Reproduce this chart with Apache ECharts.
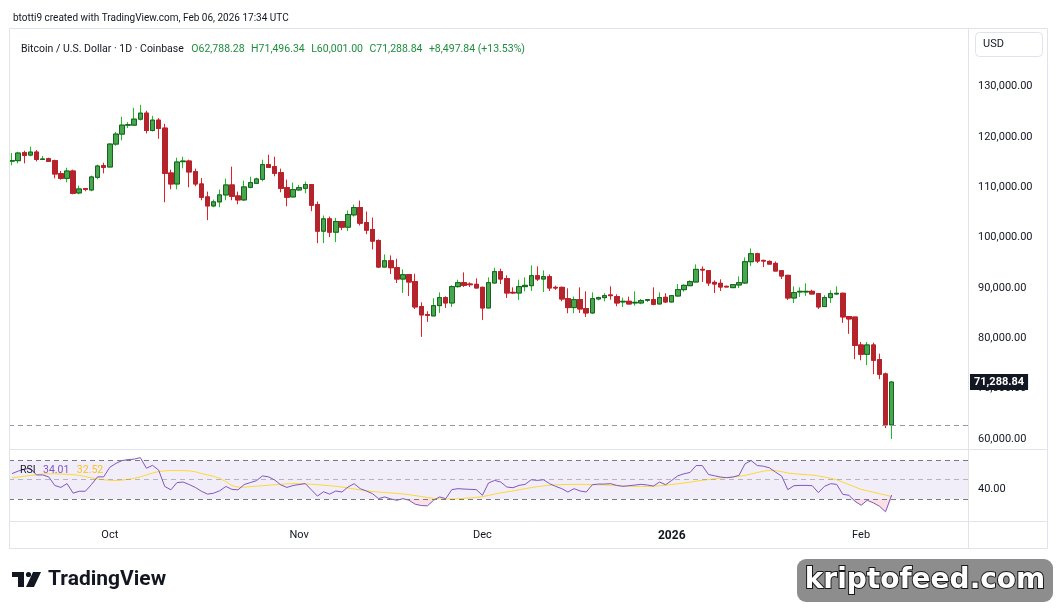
<!DOCTYPE html>
<html>
<head>
<meta charset="utf-8">
<script src="https://cdn.jsdelivr.net/npm/echarts@6/dist/echarts.min.js"></script>
<style>
html, body { margin: 0; padding: 0; background: #fff; }
#chart { width: 1057px; height: 609px; }
</style>
</head>
<body>
<div id="chart"></div>
<script>
// BTC/USD daily candles (Coinbase), Sep 15 2025 .. Feb 06 2026
const startDate = '2025-09-15';
const emptyDays = 12; // blank room right of the last candle

const opens = [
  115180, 115250, 116830, 116370, 116960, 115510, 115640, 115250, 112670, 111750,
  113200, 108850, 109700, 109440, 111950, 114260, 114000, 118550, 120530, 122310,
  122310, 123500, 124690, 121260, 123300, 121720, 112810, 110630, 115050, 115180,
  113070, 110630, 108060, 106270, 107070, 108450, 110430, 108250, 107460, 109970,
  110760, 111550, 114460, 114060, 112870, 109900, 108060, 109440, 109770, 110500,
  106540, 101260, 103700, 101060, 103170, 102050, 104490, 105940, 102970, 101590,
  99410, 94130, 95380, 94000, 91750, 92610, 91230, 86280, 84690, 84430,
  86470, 88060, 87000, 90240, 91030, 90760, 90700, 90100, 86010, 90960,
  93210, 91820, 89110, 88980, 90240, 90430, 92410, 91750, 92220, 90100,
  90100, 87860, 86080, 87660, 85880, 85020, 87790, 88060, 88590, 88260,
  87200, 87330, 87000, 87000, 87530, 87660, 86800, 88120, 87200, 88390,
  89640, 90430, 91160, 93670, 93400, 91090, 90900, 90300, 90040, 90570,
  90960, 95190, 96770, 95450, 95250, 94860, 93400, 92480, 87990, 89180,
  89180, 89310, 88850, 86280, 88060, 88780, 88920, 84300, 84200, 78660,
  76810, 78660, 75750, 72910, 62788.28
];
const highs = [
  116770, 117030, 117230, 118020, 117360, 116170, 115840, 115450, 113200, 113860,
  113470, 110300, 109700, 112280, 114460, 114850, 118680, 120930, 123960, 122900,
  125740, 126340, 125150, 124160, 123700, 122580, 113470, 115840, 116040, 115450,
  113670, 111820, 109110, 107530, 109510, 111690, 114060, 109110, 111290, 112080,
  111880, 115450, 116440, 116040, 113670, 111490, 110890, 110430, 111090, 110630,
  107130, 104360, 104160, 103900, 103170, 105350, 106540, 107330, 105150, 103960,
  99610, 96640, 96440, 95780, 93670, 92610, 92810, 87130, 85350, 87930,
  89110, 88320, 90500, 91620, 93070, 91090, 91890, 90240, 92080, 94000,
  93800, 92480, 90100, 91620, 92080, 94460, 94260, 93470, 92680, 90430,
  90240, 89910, 88260, 90100, 89310, 89110, 88260, 88920, 90300, 88720,
  88060, 88260, 89310, 87790, 87660, 90100, 89110, 88920, 88520, 90760,
  90700, 91490, 94660, 94260, 93400, 91490, 91690, 90430, 90630, 92280,
  96040, 97830, 96970, 95580, 95450, 95250, 93400, 92610, 90300, 90100,
  90900, 89640, 88850, 88520, 89510, 90300, 89050, 84300, 84200, 79250,
  79250, 79120, 76940, 73180, 71496.34
];
const lows = [
  114330, 114720, 114720, 116110, 115120, 115450, 115120, 111750, 111490, 110960,
  108580, 108580, 109180, 109180, 111550, 112740, 114000, 118220, 119280, 121720,
  122250, 123240, 120660, 121060, 119600, 107000, 109570, 109570, 113730, 109970,
  110170, 107400, 103440, 106010, 106010, 107400, 107400, 106600, 107260, 109770,
  110760, 111160, 113930, 112150, 108980, 106210, 107990, 109310, 108780, 105220,
  98880, 98880, 100070, 99080, 101460, 101260, 104160, 102380, 100660, 97630,
  93930, 94130, 92740, 90960, 88980, 88390, 85810, 80270, 83240, 84430,
  85020, 86010, 86210, 90040, 90170, 90170, 89970, 83640, 86010, 90960,
  90760, 87990, 88780, 87600, 89310, 89380, 91360, 89180, 89380, 89580,
  87330, 84960, 84960, 85020, 84230, 84820, 87530, 87330, 87660, 86340,
  86210, 86740, 86470, 86740, 87200, 86540, 86740, 87000, 87130, 88190,
  89250, 90370, 91160, 91160, 90370, 88980, 89380, 90170, 90040, 89970,
  90760, 94330, 94920, 94130, 94720, 93340, 91750, 87600, 87000, 88190,
  88390, 88780, 85810, 86280, 87000, 88650, 83040, 80860, 75820, 75620,
  74630, 72850, 71860, 62160, 60001
];
const closes = [
  115250, 116770, 116300, 116960, 115510, 115580, 115120, 112610, 111750, 113200,
  108780, 109640, 109570, 112020, 114190, 113930, 118550, 120530, 122310, 122380,
  123500, 124690, 121260, 123300, 121650, 112740, 110630, 114990, 115180, 113010,
  110630, 107990, 106270, 107070, 108450, 110430, 108190, 107460, 110040, 110890,
  111620, 114460, 113930, 112740, 109770, 107990, 109510, 109900, 110500, 106410,
  101260, 103700, 101060, 103170, 102050, 104560, 105940, 102840, 101460, 99280,
  94130, 95380, 94000, 91750, 92610, 91160, 86210, 84630, 84560, 86470,
  88060, 87000, 90240, 91030, 90500, 90630, 89970, 86010, 91030, 93210,
  91750, 88980, 88980, 90240, 90500, 92410, 91750, 92220, 89970, 89970,
  87790, 86080, 87660, 85810, 85020, 87860, 88060, 88450, 88450, 87000,
  87330, 86800, 87130, 87460, 87660, 86740, 88060, 87200, 88450, 89640,
  90500, 91230, 93670, 93540, 90960, 90760, 90170, 90170, 90630, 91030,
  95190, 96770, 95320, 95320, 94720, 93340, 92350, 87990, 89050, 89310,
  89310, 88780, 86210, 88060, 88850, 88920, 84230, 83830, 78590, 76810,
  78660, 75620, 72850, 62791, 71288.84
];

const rsi = [
  56.4, 59, 61, 62, 55, 55, 53, 44, 42, 46,
  36, 38, 38, 45, 53, 53, 63, 67, 70, 71,
  71.5, 73, 62, 65, 60, 43, 39.5, 47, 47.6, 45,
  42, 38, 35, 36, 38.5, 43, 40, 39.5, 45, 47,
  49, 54, 53, 49.7, 44.6, 42, 44, 45, 46, 39.5,
  33, 37.5, 35, 38.3, 37.2, 42.4, 45.9, 40.7, 38.3, 35.5,
  30.3, 32.1, 30, 28.6, 30.3, 28.6, 24.5, 23.1, 22.8, 28.6,
  32.1, 30.3, 39.7, 40.7, 40.3, 40, 39.7, 33.8, 46.6, 49.3,
  47.6, 42.4, 41.7, 44.1, 45.2, 50, 49.3, 50, 45.9, 43.1,
  40.7, 37.2, 40.7, 38.3, 37.2, 44.8, 45.5, 45.5, 45.9, 44.1,
  43.1, 43.8, 44.5, 45.2, 44.5, 43.4, 47.6, 44.8, 49.3, 54.1,
  56.2, 57.6, 64.8, 64.8, 55.5, 54.1, 52.8, 52.1, 52.8, 54.5,
  66.6, 70, 64.8, 64.1, 62.4, 57.9, 53.8, 39.7, 43.8, 44.1,
  44.1, 43.8, 36.6, 43.1, 45.9, 45.2, 34.8, 33.8, 27.6, 23.4,
  28.6, 25.9, 22.4, 16.6, 34.01
];
const rsiMa = [
  52, 52.8, 53.6, 54.4, 55.2, 56, 56.2, 56.1, 56, 55.7,
  55.3, 54.5, 53.3, 52, 50.8, 50, 49.4, 49.2, 49.6, 50.5,
  51.5, 53, 55, 57, 58.5, 59.3, 59.6, 59.6, 59.5, 59.3,
  58.3, 56.5, 55, 53.5, 51.5, 48, 44, 42.3, 42.3, 42.8,
  43.3, 43.8, 44.3, 44.8, 45.3, 45.7, 46, 46, 45.7, 45.3,
  44.8, 44.3, 43.8, 43.2, 42.4, 41.4, 40.4, 39.4, 38.5, 37.8,
  37.2, 36.7, 36.2, 35.7, 35.2, 34.4, 33.5, 32.5, 31.5, 30.6,
  30, 29.8, 29.9, 30.2, 30.6, 31.1, 31.6, 32.4, 33.6, 35,
  36.3, 37.4, 38.3, 39.5, 40.7, 41.8, 42.8, 43.6, 44.2, 44.6,
  44.9, 45.1, 45.2, 45.2, 45.1, 44.9, 44.7, 44.5, 44.2, 43.9,
  43.6, 43.3, 43.1, 43, 43, 43.2, 43.7, 44.3, 45, 45.8,
  46.6, 47.5, 48.5, 49.4, 50.2, 51, 51.7, 52.4, 53, 53.7,
  54.5, 56, 57.5, 59, 59.7, 59.5, 58.5, 57, 56.3, 55.8,
  55.3, 54.8, 54, 52.8, 51.5, 50, 47.5, 45, 42.5, 40,
  38.5, 37, 35.5, 34, 32.52
];

const priceTicks = [60000, 70000, 80000, 90000, 100000, 110000, 120000, 130000];
const rsiTicks = [40];
const monthTicks = {
  '2025-10-01': 'Oct',
  '2025-11-01': 'Nov',
  '2025-12-01': 'Dec',
  '2026-01-01': '2026',
  '2026-02-01': 'Feb'
};

const FONT = 'Roboto, "Noto Sans", sans-serif';
const TEXT = '#131722';
const GREEN_TXT = '#1e8e3e';

function fmt(v) {
  return v.toLocaleString('en-US', { minimumFractionDigits: 2, maximumFractionDigits: 2 });
}

const n = closes.length;
const dates = [];
const d0 = new Date(startDate + 'T00:00:00Z');
for (let i = 0; i < n + emptyDays; i++) {
  dates.push(new Date(d0.getTime() + i * 86400000).toISOString().slice(0, 10));
}

const wickData = opens.map((o, i) => [o, closes[i], lows[i], highs[i]]);
const bodyData = opens.map((o, i) => [o, closes[i], Math.min(o, closes[i]), Math.max(o, closes[i])]);
const osBase = rsi.map(v => Math.min(v, 30));
const osFill = rsi.map(v => 30 - Math.min(v, 30));

const lastO = opens[n - 1], lastH = highs[n - 1], lastL = lows[n - 1], lastC = closes[n - 1];
const prevClose = closes[n - 2];
const chg = lastC - prevClose;
const chgPct = chg / prevClose * 100;

const chart = echarts.init(document.getElementById('chart'));

const legendStyle = { fontSize: 10.5, fontFamily: FONT, fontWeight: 'normal' };

chart.setOption({
  animation: false,
  backgroundColor: '#fff',
  textStyle: { fontFamily: FONT },
  title: [
    {
      text: 'btotti9 created with TradingView.com, Feb 06, 2026 17:34 UTC',
      left: 8, top: 8,
      textStyle: { fontSize: 10, fontWeight: 'normal', color: TEXT, fontFamily: FONT }
    },
    {
      text: '{t|Bitcoin / U.S. Dollar · 1D · Coinbase} {g|O' + fmt(lastO) + '} {g|H' + fmt(lastH) +
        '} {g|L' + fmt(lastL) + '} {g|C' + fmt(lastC) + '} {g|+' + fmt(chg) + ' (+' + chgPct.toFixed(2) + '%)}',
      left: 16, top: 35,
      textStyle: {
        fontWeight: 'normal',
        rich: {
          t: Object.assign({ color: TEXT, padding: [0, 3, 0, 0] }, legendStyle),
          g: Object.assign({ color: GREEN_TXT, padding: [0, 2, 0, 0] }, legendStyle)
        }
      }
    },
    {
      text: '{t|RSI} {p|' + rsi[n - 1].toFixed(2) + '} {y|' + rsiMa[n - 1].toFixed(2) + '}',
      left: 15, top: 456,
      textStyle: {
        fontWeight: 'normal',
        rich: {
          t: Object.assign({ color: TEXT, padding: [0, 3, 0, 0] }, legendStyle),
          p: Object.assign({ color: '#7e57c2', padding: [0, 3, 0, 0] }, legendStyle),
          y: Object.assign({ color: '#f7c325' }, legendStyle)
        }
      }
    }
  ],
  grid: [
    { left: 9, right: 89, top: 29, height: 420 },
    { left: 9, right: 89, top: 450, height: 71 }
  ],
  xAxis: [
    {
      type: 'category', gridIndex: 0, data: dates, boundaryGap: true,
      axisLine: { show: false }, axisTick: { show: false },
      axisLabel: { show: false }, splitLine: { show: false }
    },
    {
      type: 'category', gridIndex: 1, data: dates, boundaryGap: true,
      axisLine: { show: false }, axisTick: { show: false }, splitLine: { show: false },
      axisLabel: {
        interval: (idx, val) => monthTicks[val] !== undefined,
        formatter: val => monthTicks[val] === '2026' ? '{b|2026}' : (monthTicks[val] || ''),
        color: TEXT, fontSize: 11, margin: 9,
        rich: { b: { fontWeight: 'bold', fontSize: 12, color: TEXT } }
      }
    }
  ],
  yAxis: [
    {
      type: 'value', gridIndex: 0, position: 'right',
      min: 58000, max: 141400, interval: 2000, scale: true,
      axisLine: { show: false }, axisTick: { show: false }, splitLine: { show: false },
      axisLabel: {
        formatter: v => priceTicks.includes(v) ? fmt(v) : '',
        color: TEXT, fontSize: 11, margin: 10
      }
    },
    {
      type: 'value', gridIndex: 1, position: 'right',
      min: 7, max: 81, interval: 1,
      axisLine: { show: false }, axisTick: { show: false }, splitLine: { show: false },
      axisLabel: {
        formatter: v => rsiTicks.includes(v) ? fmt(v) : '',
        color: TEXT, fontSize: 11, margin: 10
      }
    }
  ],
  series: [
    {
      // wicks
      name: 'wicks', type: 'candlestick', xAxisIndex: 0, yAxisIndex: 0,
      data: wickData, barWidth: 5,
      itemStyle: {
        color: '#17c21f', color0: '#ec1c24',
        borderColor: '#17c21f', borderColor0: '#ec1c24', borderWidth: 1
      }
    },
    {
      // bodies
      name: 'BTCUSD', type: 'candlestick', xAxisIndex: 0, yAxisIndex: 0,
      data: bodyData, barWidth: 5,
      itemStyle: {
        color: '#45a84c', color0: '#b5242d',
        borderColor: '#1c5e24', borderColor0: '#b5242d', borderWidth: 1
      },
      markLine: {
        symbol: 'none', silent: true, animation: false,
        data: [
          {
            yAxis: prevClose,
            lineStyle: { color: '#9598a1', type: [5, 4], width: 1 },
            label: { show: false }
          },
          {
            yAxis: lastC,
            lineStyle: { color: 'rgba(0,0,0,0)', width: 1 },
            label: {
              show: true, position: 'end', distance: 2,
              formatter: fmt(lastC),
              color: '#fff', backgroundColor: '#131722', fontWeight: 'bold',
              padding: [3, 4, 2, 4], fontSize: 11, fontFamily: FONT
            }
          }
        ]
      }
    },
    {
      name: 'RSI', type: 'line', xAxisIndex: 1, yAxisIndex: 1,
      data: rsi, showSymbol: false, z: 4,
      lineStyle: { color: '#7e57c2', width: 1 },
      markArea: {
        silent: true,
        itemStyle: { color: 'rgba(126,87,194,0.1)' },
        data: [[{ yAxis: 30 }, { yAxis: 70 }]]
      },
      markLine: {
        symbol: 'none', silent: true,
        label: { show: false },
        lineStyle: { color: '#787b86', type: [5, 4], width: 1 },
        data: [
          { yAxis: 70 },
          { yAxis: 50, lineStyle: { color: 'rgba(120,123,134,0.5)', type: [5, 4] } },
          { yAxis: 30 }
        ]
      }
    },
    {
      name: 'RSI MA', type: 'line', xAxisIndex: 1, yAxisIndex: 1,
      data: rsiMa, showSymbol: false, z: 3,
      lineStyle: { color: '#fdd835', width: 1 }
    },
    {
      name: 'osBase', type: 'line', xAxisIndex: 1, yAxisIndex: 1, stack: 'os',
      data: osBase, showSymbol: false, silent: true,
      lineStyle: { opacity: 0 }
    },
    {
      name: 'osFill', type: 'line', xAxisIndex: 1, yAxisIndex: 1, stack: 'os',
      data: osFill, showSymbol: false, silent: true,
      lineStyle: { opacity: 0 },
      areaStyle: { color: 'rgba(242,54,69,0.22)' }
    }
  ],
  graphic: [
    // chart frame and pane separators
    { type: 'rect', silent: true, z: 10, shape: { x: 9.5, y: 28.5, width: 1038, height: 520 },
      style: { fill: 'none', stroke: '#e0e3eb', lineWidth: 1 } },
    { type: 'line', silent: true, z: 10, shape: { x1: 968.5, y1: 28.5, x2: 968.5, y2: 548.5 },
      style: { stroke: '#e0e3eb', lineWidth: 1 } },
    { type: 'line', silent: true, z: 10, shape: { x1: 9.5, y1: 449.5, x2: 1047.5, y2: 449.5 },
      style: { stroke: '#e0e3eb', lineWidth: 1 } },
    { type: 'line', silent: true, z: 10, shape: { x1: 9.5, y1: 521.5, x2: 1047.5, y2: 521.5 },
      style: { stroke: '#e0e3eb', lineWidth: 1 } },
    // currency box
    { type: 'rect', silent: true, z: 10, shape: { x: 975.5, y: 32.5, width: 67, height: 24, r: 4 },
      style: { fill: '#fff', stroke: '#e0e3eb', lineWidth: 1 } },
    { type: 'text', silent: true, z: 11, x: 983, y: 44.5,
      style: { text: 'USD', fill: TEXT, font: '11px ' + FONT, textVerticalAlign: 'middle' } },
    // TradingView logo
    { type: 'polygon', silent: true, shape: { points: [[12, 572], [24, 572], [24, 587], [18, 587], [18, 577], [12, 577]] },
      style: { fill: TEXT } },
    { type: 'circle', silent: true, shape: { cx: 28.5, cy: 574.5, r: 2.6 }, style: { fill: TEXT } },
    { type: 'polygon', silent: true, shape: { points: [[33, 572], [41, 572], [34, 587], [26, 587]] },
      style: { fill: TEXT } },
    { type: 'text', silent: true, x: 48, y: 580,
      style: { text: 'TradingView', fill: TEXT, font: 'bold 21px ' + FONT, textVerticalAlign: 'middle' } },
    // watermark badge
    { type: 'rect', silent: true, shape: { x: 797, y: 559, width: 256, height: 43, r: 9 },
      style: { fill: '#8d8d8d' } },
    { type: 'text', silent: true, x: 925, y: 581,
      style: {
        text: 'kriptofeed.com', fill: '#fff', stroke: '#1a1a1a', lineWidth: 2,
        font: 'bold 28px "DejaVu Sans", sans-serif', textAlign: 'center', textVerticalAlign: 'middle'
      } }
  ]
});
</script>
</body>
</html>
